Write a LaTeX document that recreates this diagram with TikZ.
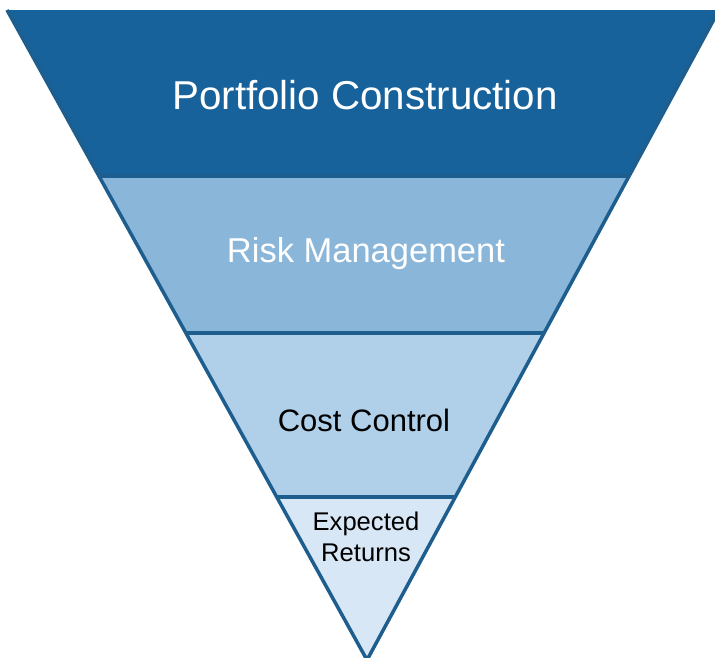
\documentclass[tikz,border=0pt]{standalone}
\usepackage{fontspec}
\setmainfont{Liberation Sans}
\usetikzlibrary{calc}
\definecolor{bandA}{HTML}{17629A}
\definecolor{bandB}{HTML}{8AB6DA}
\definecolor{bandC}{HTML}{B0CFE8}
\definecolor{bandD}{HTML}{D7E7F5}
\definecolor{edgecol}{HTML}{1E5E8E}
\tikzset{
  edge/.style={draw=edgecol, line width=3.5pt, line join=miter},
  lbl/.style={inner sep=0pt, anchor=base},
}
\begin{document}
\begin{tikzpicture}[x=1pt,y=-1pt]
\useasboundingbox (0,0) rectangle (715,657);
\clip (0,0) rectangle (715,657);
\fill[white] (0,0) rectangle (715,657);
\coordinate (TL) at (7,10);
\coordinate (TR) at (719,10);
\coordinate (AP) at (367,660);
\coordinate (L1) at ($(TL)!0.2554!(AP)$);
\coordinate (R1) at ($(TR)!0.2554!(AP)$);
\coordinate (L2) at ($(TL)!0.4969!(AP)$);
\coordinate (R2) at ($(TR)!0.4969!(AP)$);
\coordinate (L3) at ($(TL)!0.7492!(AP)$);
\coordinate (R3) at ($(TR)!0.7492!(AP)$);
\fill[bandA] (TL) -- (TR) -- (R1) -- (L1) -- cycle;
\fill[bandB] (L1) -- (R1) -- (R2) -- (L2) -- cycle;
\fill[bandC] (L2) -- (R2) -- (R3) -- (L3) -- cycle;
\fill[bandD] (L3) -- (R3) -- (AP) -- cycle;
\draw[edge] (TL) -- (AP) -- (TR);
\draw[edge] (L1) -- (R1);
\draw[edge] (L2) -- (R2);
\draw[edge] (L3) -- (R3);
\node[lbl, text=white, font=\fontsize{40.3}{48}\selectfont] (pc) at (365,109) {Portfolio Construction};
\node[lbl, text=white, font=\fontsize{34.5}{41}\selectfont] (rm) at (366,262) {Risk Management};
\node[lbl, text=black, font=\fontsize{31}{37}\selectfont] (cc) at (364,431) {Cost Control};
\node[inner sep=0pt, anchor=center, align=center, text=black, font=\fontsize{25.6}{31.5}\selectfont] (er) at (366,537) {Expected\\Returns};
\end{tikzpicture}
\end{document}
